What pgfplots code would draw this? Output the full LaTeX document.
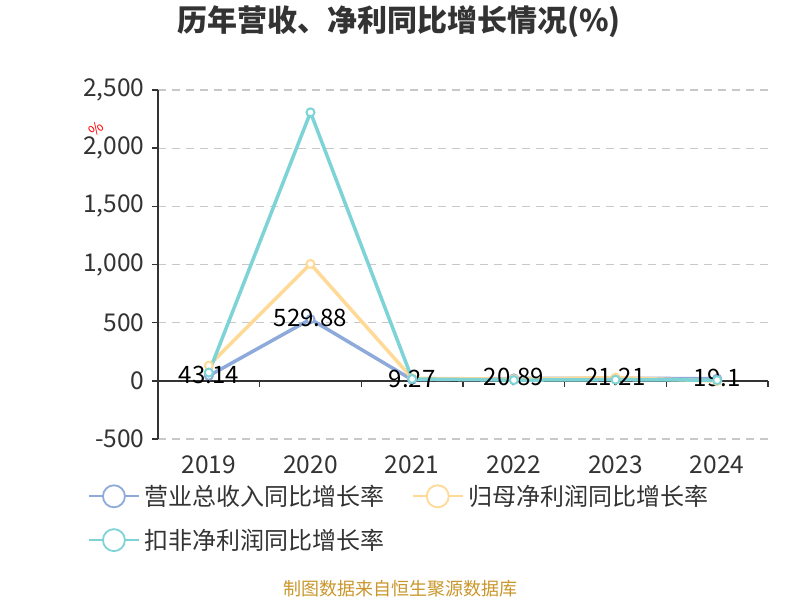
\documentclass[border=0pt]{standalone}
\usepackage{fontspec}
\setmainfont{Noto Sans CJK SC}
\usepackage{pgfplots}
\pgfplotsset{compat=1.18}

\definecolor{revblue}{RGB}{142,170,219}
\definecolor{profyel}{RGB}{255,217,150}
\definecolor{dedcyan}{RGB}{126,211,214}
\definecolor{txtgray}{RGB}{51,51,51}
\definecolor{gridgray}{RGB}{200,200,200}
\definecolor{srcgold}{RGB}{201,150,43}

\begin{document}
\begin{tikzpicture}[x=1pt,y=1pt]
\useasboundingbox (0,0) rectangle (800,600);

% title
\node[font=\fontsize{30}{33}\selectfont\bfseries, text=txtgray] at (399,578) {历年营收、净利同比增长情况(\%)};

\begin{axis}[
  at={(158pt,161pt)}, anchor=south west,
  scale only axis, width=610pt, height=349pt,
  xmin=-0.5, xmax=5.5, ymin=-500, ymax=2500,
  axis lines*=left,
  x axis line style={draw=none},
  y axis line style={txtgray, line width=1.5pt},
  xtick={0,...,5},
  xticklabels={2019,2020,2021,2022,2023,2024},
  x tick style={draw=none},
  ytick={-500,0,500,1000,1500,2000,2500},
  y tick style={txtgray, line width=1.5pt},
  tick align=outside,
  major tick length=6pt,
  ymajorgrids,
  grid style={gridgray, line width=1.2pt, dash pattern=on 8pt off 6pt},
  tick label style={font=\fontsize{24.5}{27}\selectfont, text=txtgray},
  xticklabel style={yshift=-7pt},
  yticklabel style={xshift=-4pt},
  /pgf/number format/.cd, 1000 sep={,}, assume math mode=true,
  /pgfplots/.cd,
  clip=false,
  legend columns=2,
  legend style={at={(-0.115,-0.118)}, anchor=north west, draw=none, fill=none,
    font=\fontsize{24}{27}\selectfont, text=txtgray,
    /tikz/every even column/.style={column sep=22pt},
    nodes={inner sep=5pt},
    row sep=12pt, inner sep=0pt},
  legend cell align=left,
  legend image code/.code={
    \draw[line width=1.8pt] (0pt,0pt) -- (50pt,0pt);
    \draw[line width=1.8pt, fill=white] (25pt,0pt) circle (11pt);
  },
]

% x axis line at zero with boundary ticks
\draw[txtgray, line width=1.5pt] (axis cs:-0.5,0) -- (axis cs:5.5,0);
\pgfplotsinvokeforeach{0.5,1.5,2.5,3.5,4.5,5.5}{
  \draw[txtgray, line width=1.5pt] (axis cs:#1,0) -- ++(0pt,-6pt);
}

\addplot[revblue, line width=3.5pt, mark=*, mark size=4pt,
  mark options={fill=white, line width=2pt},
  nodes near coords, point meta=explicit symbolic,
  every node near coord/.append style={anchor=center, yshift=1pt, text=black,
    font=\fontsize{24}{27}\selectfont}]
  table[meta=lab] {
  x y lab
  0 43.14 43.14
  1 529.88 529.88
  2 9.27 9.27
  3 20.89 20.89
  4 21.21 21.21
  5 19.1 19.1
};
\addlegendentry{营业总收入同比增长率}

\addplot[profyel, line width=3.5pt, mark=*, mark size=4pt,
  mark options={fill=white, line width=2pt}]
  coordinates {(0,131) (1,1005) (2,22) (3,14) (4,28) (5,-2)};
\addlegendentry{归母净利润同比增长率}

\addplot[dedcyan, line width=3.5pt, mark=*, mark size=4pt,
  mark options={fill=white, line width=2pt}]
  coordinates {(0,71) (1,2308) (2,16) (3,6) (4,10) (5,6)};
\addlegendentry{扣非净利润同比增长率}

\end{axis}

% axis name
\node[text=red, rotate=40, font=\fontsize{15}{16}\selectfont] at (96,471) {\%};

% source
\node[text=srcgold, font=\fontsize{18}{20}\selectfont] at (400,11) {制图数据来自恒生聚源数据库};
\end{tikzpicture}
\end{document}
